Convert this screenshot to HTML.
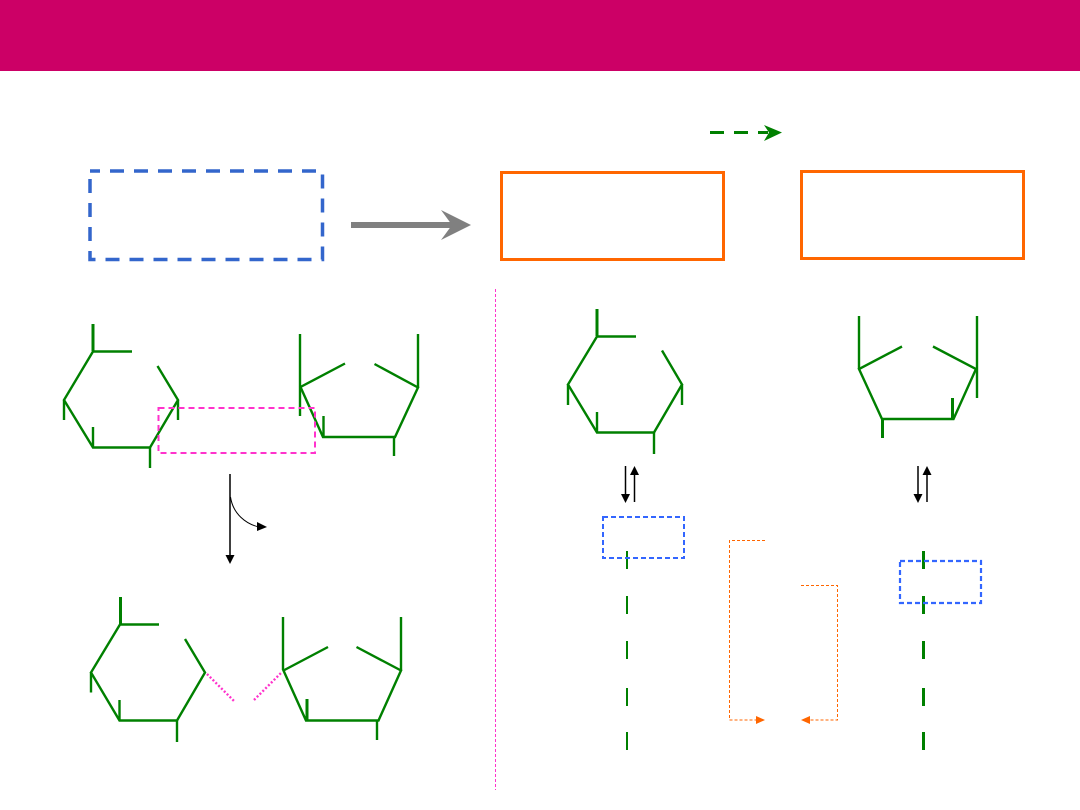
<!DOCTYPE html>
<html>
<head>
<meta charset="utf-8">
<style>
html,body{margin:0;padding:0;background:#fff;width:1080px;height:810px;overflow:hidden}
svg{display:block}
</style>
</head>
<body>
<svg width="1080" height="810" viewBox="0 0 1080 810" xmlns="http://www.w3.org/2000/svg">
<rect x="0" y="0" width="1080" height="71" fill="#cc0066"/>

<!-- top boxes -->
<rect x="90" y="171" width="232.5" height="88.5" fill="none" stroke="#3366cc" stroke-width="3.5" stroke-dasharray="14 10" stroke-dashoffset="4"/>
<rect x="501.5" y="172.5" width="222" height="87" fill="none" stroke="#ff6600" stroke-width="3"/>
<rect x="801.5" y="171.5" width="222" height="87" fill="none" stroke="#ff6600" stroke-width="3"/>

<!-- gray arrow -->
<rect x="351" y="222" width="104" height="6" fill="#808080"/>
<polygon points="471,225 441,210 452,225 441,240" fill="#808080"/>

<!-- green legend arrow -->
<line x1="710" y1="132.5" x2="768" y2="132.5" stroke="#008000" stroke-width="3" stroke-dasharray="14 10"/>
<polygon points="782,132.5 764,125 769,132.5 764,141" fill="#008000"/>

<!-- divider -->
<line x1="495.5" y1="289" x2="495.5" y2="790" stroke="#ff33cc" stroke-width="1" stroke-dasharray="3 2"/>

<g fill="none" stroke="#008000" stroke-width="2.4">
  <!-- hexagon 1 -->
  <path d="M157.5,366 L178,400 L150,447.5 L93,447.5 L64,400 L93,351.5 L132,351.5"/>
  <line x1="93" y1="324" x2="93" y2="351" stroke-width="3"/>
  <line x1="64" y1="400" x2="64" y2="420"/>
  <line x1="93" y1="427" x2="93" y2="447"/>
  <line x1="150" y1="447" x2="150" y2="468"/>
  <line x1="178" y1="400" x2="178" y2="420"/>
  <!-- pentagon 1 -->
  <path d="M345,363.5 L300.5,387 L323,437 L395,437 L418,387.5 L374.5,364"/>
  <line x1="300" y1="334" x2="300" y2="416"/>
  <line x1="418" y1="334" x2="418" y2="387"/>
  <line x1="323.5" y1="416" x2="323.5" y2="437"/>
  <line x1="394" y1="437" x2="394" y2="456"/>

  <!-- hexagon 2 -->
  <path d="M662,350.5 L682,384.5 L654,432.5 L597,432.5 L568,384.5 L597,336.5 L636,336.5"/>
  <line x1="597" y1="309" x2="597" y2="336" stroke-width="3"/>
  <line x1="568" y1="384" x2="568" y2="405"/>
  <line x1="597" y1="412" x2="597" y2="432"/>
  <line x1="654" y1="432" x2="654" y2="454"/>
  <line x1="682" y1="384" x2="682" y2="405"/>
  <!-- pentagon 2 -->
  <path d="M902,346.5 L859,369 L882,419 L953.5,419 L976,369 L933,346.5"/>
  <line x1="859" y1="316" x2="859" y2="369"/>
  <line x1="977" y1="316" x2="977" y2="398"/>
  <line x1="882.5" y1="419" x2="882.5" y2="438" stroke-width="3"/>
  <line x1="952.5" y1="398" x2="952.5" y2="418" stroke-width="3"/>

  <!-- hexagon 3 -->
  <path d="M185,639 L205,672.5 L177,720.5 L119.5,720.5 L91,672.5 L120,624.5 L159,624.5"/>
  <line x1="120.5" y1="597" x2="120.5" y2="624" stroke-width="3"/>
  <line x1="91" y1="672" x2="91" y2="692.5"/>
  <line x1="119.5" y1="700" x2="119.5" y2="720"/>
  <line x1="177" y1="720" x2="177" y2="742"/>
  <!-- pentagon 3 -->
  <path d="M328,647 L283.5,670.5 L306,720.5 L378.5,720.5 L401,670.5 L356.5,647"/>
  <line x1="283" y1="617" x2="283" y2="670"/>
  <line x1="401" y1="617" x2="401" y2="670"/>
  <line x1="307" y1="699" x2="307" y2="720" stroke-width="3"/>
  <line x1="377" y1="720" x2="377" y2="740"/>

  <!-- chain dashes -->
  <path d="M627,551V569M627,596V614M627,641V659M627,688V706M627,732V750" stroke-width="2"/>
  <path d="M923.5,551V569M923.5,596V614M923.5,641V659M923.5,688V706M923.5,732V750" stroke-width="3"/>
</g>

<!-- pink box + glycosidic -->
<rect x="158.5" y="408" width="156.5" height="45" fill="none" stroke="#ff33cc" stroke-width="2" stroke-dasharray="6 4"/>
<path d="M207,674 L235,702 M254,700 L282,672" fill="none" stroke="#ff33cc" stroke-width="2.4" stroke-dasharray="2 2"/>

<!-- blue small boxes -->
<rect x="603" y="517" width="81" height="41" fill="none" stroke="#3366ff" stroke-width="2" stroke-dasharray="5 3"/>
<rect x="900" y="561" width="81" height="42" fill="none" stroke="#3366ff" stroke-width="2.2" stroke-dasharray="5 3"/>

<!-- black arrows -->
<line x1="230" y1="474" x2="230" y2="556" stroke="#000" stroke-width="1.5"/>
<polygon points="225.5,555 234.5,555 230,564" fill="#000"/>
<path d="M230.5,497 C233,514 246,524 259,527" fill="none" stroke="#000" stroke-width="1"/>
<polygon points="257,522 267,527 257,531" fill="#000"/>

<line x1="625.5" y1="466" x2="625.5" y2="495" stroke="#000" stroke-width="1.5"/>
<polygon points="621,494 630,494 625.5,503" fill="#000"/>
<line x1="634.5" y1="502" x2="634.5" y2="473" stroke="#000" stroke-width="1.5"/>
<polygon points="630,475 639,475 634.5,466" fill="#000"/>
<line x1="918" y1="466" x2="918" y2="495" stroke="#000" stroke-width="1.5"/>
<polygon points="913.5,494 922.5,494 918,503" fill="#000"/>
<line x1="927" y1="502" x2="927" y2="473" stroke="#000" stroke-width="1.5"/>
<polygon points="922.5,475 931.5,475 927,466" fill="#000"/>

<!-- orange dotted connectors -->
<path d="M765,540.5 H729.5 V720 H757" fill="none" stroke="#ff6600" stroke-width="1" stroke-dasharray="3 2"/>
<polygon points="765,720 756,716 756,724" fill="#ff6600"/>
<path d="M801,585.5 H837.5 V720 H809" fill="none" stroke="#ff6600" stroke-width="1" stroke-dasharray="3 2"/>
<polygon points="801,720 810,716 810,724" fill="#ff6600"/>
</svg>
</body>
</html>
